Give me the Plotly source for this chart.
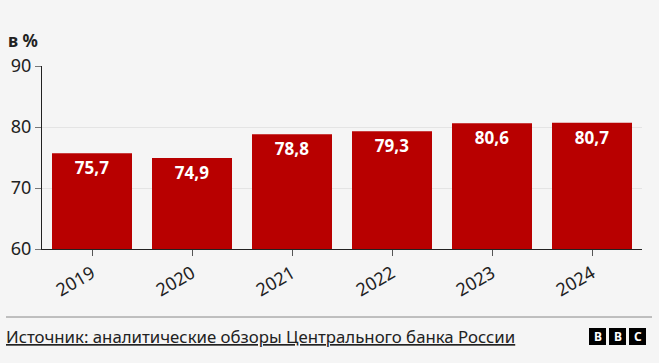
import plotly.graph_objects as go

years = ["2019", "2020", "2021", "2022", "2023", "2024"]
values = [75.7, 74.9, 78.8, 79.3, 80.6, 80.7]
labels = ["75,7", "74,9", "78,8", "79,3", "80,6", "80,7"]
y_ticks = [60, 70, 80, 90]

FONT = "Noto Sans"
BG = "#f5f5f5"

fig = go.Figure()
fig.add_trace(go.Bar(
    x=years, y=values, text=labels, textposition="inside", insidetextanchor="end",
    textfont=dict(family=FONT, size=17, color="white", weight="bold"),
    marker=dict(color="#b80000", line=dict(width=0)),
    cliponaxis=False, hoverinfo="skip",
))

fig.update_layout(
    width=659, height=363,
    margin=dict(l=42, r=17, t=66, b=114),
    paper_bgcolor=BG, plot_bgcolor=BG,
    bargap=0.2, showlegend=False,
    font=dict(family=FONT, color="#222222"),
    xaxis=dict(
        showline=True, linecolor="#222222", linewidth=1,
        ticks="outside", ticklen=6, tickcolor="#555555",
        tickangle=-30, tickfont=dict(family=FONT, size=18, color="#222222"),
        showgrid=False,
    ),
    yaxis=dict(
        range=[60, 90], tickvals=y_ticks,
        showline=True, linecolor="#222222", linewidth=1,
        ticks="outside", ticklen=6, tickcolor="#777777",
        tickfont=dict(family=FONT, size=18, color="#222222"),
        showgrid=True, gridcolor="#e4e4e4", gridwidth=1, zeroline=False,
    ),
)

fig.add_annotation(xref="paper", yref="paper", x=-36/600, y=(249-40)/183,
                   xanchor="left", yanchor="middle", showarrow=False,
                   text="<b>в %</b>", font=dict(family=FONT, size=17, color="#222222"))

fig.add_shape(type="line", xref="paper", yref="paper",
              x0=-36/600, x1=610/600, y0=-(317-249)/183, y1=-(317-249)/183,
              line=dict(color="#888888", width=1))

fig.add_annotation(xref="paper", yref="paper", x=-38/600, y=-(336-249)/183,
                   xanchor="left", yanchor="middle", showarrow=False,
                   text="<u>Источник: аналитические обзоры Центрального банка России</u>",
                   font=dict(family=FONT, size=16.8, color="#222222"))

for i, letter in enumerate(["B", "B", "C"]):
    x0 = 589 + i * 20
    fig.add_shape(type="rect", xref="paper", yref="paper",
                  x0=(x0 - 42)/600, x1=(x0 + 17 - 42)/600,
                  y0=-(345-249)/183, y1=-(328-249)/183,
                  fillcolor="#000000", line=dict(width=0))
    fig.add_annotation(xref="paper", yref="paper", x=(x0 + 8.5 - 42)/600, y=-(336.5-249)/183,
                       xanchor="center", yanchor="middle", showarrow=False,
                       text="<b>%s</b>" % letter,
                       font=dict(family=FONT, size=12, color="white"))

fig.write_html("out.html", config={"displayModeBar": False},
               post_script="document.body.style.margin='0';document.body.style.background='%s';" % BG)
